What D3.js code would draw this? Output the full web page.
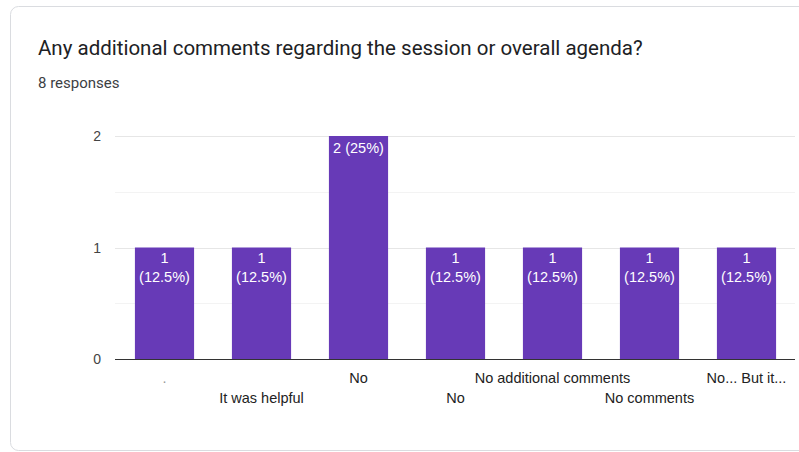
<!DOCTYPE html>
<html>
<head>
<meta charset="utf-8">
<script src="https://cdn.jsdelivr.net/npm/d3@7/dist/d3.min.js"></script>
<style>
  html, body { margin: 0; padding: 0; background: #fff; }
  svg { display: block; }
</style>
</head>
<body>
<svg id="chart" width="799" height="452"></svg>
<script>
const title = "Any additional comments regarding the session or overall agenda?";
const subtitle = "8 responses";
const categories = [".", "It was helpful", "No", "No ", "No additional comments", "No comments", "No... But it..."];
const values = [1, 1, 2, 1, 1, 1, 1];
const totalResponses = 8;
const yTicks = [0, 1, 2];
const yMinorTicks = [0.5, 1.5];

const svg = d3.select("#chart");

// card
svg.append("rect")
  .attr("x", 10.5).attr("y", 6.5)
  .attr("width", 820).attr("height", 444)
  .attr("rx", 8).attr("ry", 8)
  .attr("fill", "#fff")
  .attr("stroke", "#dadce0").attr("stroke-width", 1);

const titleText = svg.append("text")
  .attr("x", 38).attr("y", 55)
  .attr("font-family", "Roboto, 'Open Sans', sans-serif")
  .attr("font-size", 20.5)
  .attr("fill", "#202124")
  .text(title);

svg.append("text")
  .attr("x", 38).attr("y", 88)
  .attr("font-family", "Roboto, 'Open Sans', sans-serif")
  .attr("font-size", 15)
  .attr("fill", "#3c4043")
  .text(subtitle);

const m = { left: 116, right: 795, top: 136, bottom: 359 };

const x = d3.scaleBand()
  .domain(categories)
  .range([m.left, m.right])
  .paddingInner(0.39)
  .paddingOuter(0.195);

const y = d3.scaleLinear()
  .domain([0, 2])
  .range([m.bottom, m.top]);

const font = "'Liberation Sans', Arial, sans-serif";

// gridlines
svg.append("g").selectAll("line.minor")
  .data(yMinorTicks).join("line")
  .attr("x1", 115).attr("x2", m.right)
  .attr("y1", d => Math.round(y(d)) + 0.5).attr("y2", d => Math.round(y(d)) + 0.5)
  .attr("stroke", "#f3f3f3");

svg.append("g").selectAll("line.major")
  .data(yTicks.filter(d => d !== 0)).join("line")
  .attr("x1", 115).attr("x2", m.right)
  .attr("y1", d => Math.round(y(d)) + 0.5).attr("y2", d => Math.round(y(d)) + 0.5)
  .attr("stroke", "#e6e6e6");

// y tick labels
svg.append("g").selectAll("text")
  .data(yTicks).join("text")
  .attr("x", 101)
  .attr("y", d => y(d) + 5)
  .attr("text-anchor", "end")
  .attr("font-family", font)
  .attr("font-size", 14)
  .attr("fill", "#444")
  .text(d => d);

// bars
svg.append("g").selectAll("rect")
  .data(categories).join("rect")
  .attr("x", d => x(d))
  .attr("width", x.bandwidth())
  .attr("y", (d, i) => y(values[i]))
  .attr("height", (d, i) => y(0) - y(values[i]))
  .attr("fill", "#673ab7");

// bar labels
const lbl = svg.append("g")
  .attr("font-family", font)
  .attr("font-size", 14.5)
  .attr("fill", "#fff")
  .attr("text-anchor", "middle");

categories.forEach((c, i) => {
  const cx = x(c) + x.bandwidth() / 2;
  const pct = (values[i] / totalResponses * 100);
  const pctStr = (Math.round(pct * 10) / 10) + "%";
  const top = y(values[i]);
  const twoLine = values[i] < 2;
  if (twoLine) {
    lbl.append("text").attr("x", cx).attr("y", top + 15).text(values[i]);
    lbl.append("text").attr("x", cx).attr("y", top + 34).text("(" + pctStr + ")");
  } else {
    lbl.append("text").attr("x", cx).attr("y", top + 17).text(values[i] + " (" + pctStr + ")");
  }
});

// baseline axis
svg.append("line")
  .attr("x1", 115).attr("x2", m.right)
  .attr("y1", y(0) + 0.5).attr("y2", y(0) + 0.5)
  .attr("stroke", "#333").attr("stroke-width", 1);

// category labels (staggered)
svg.append("g").selectAll("text")
  .data(categories).join("text")
  .attr("x", d => x(d) + x.bandwidth() / 2)
  .attr("y", (d, i) => i % 2 === 0 ? 383 : 403)
  .attr("text-anchor", "middle")
  .attr("font-family", font)
  .attr("font-size", 14.5)
  .attr("fill", d => d === "." ? "#999" : "#222")
  .text(d => d.trim());
</script>
</body>
</html>
